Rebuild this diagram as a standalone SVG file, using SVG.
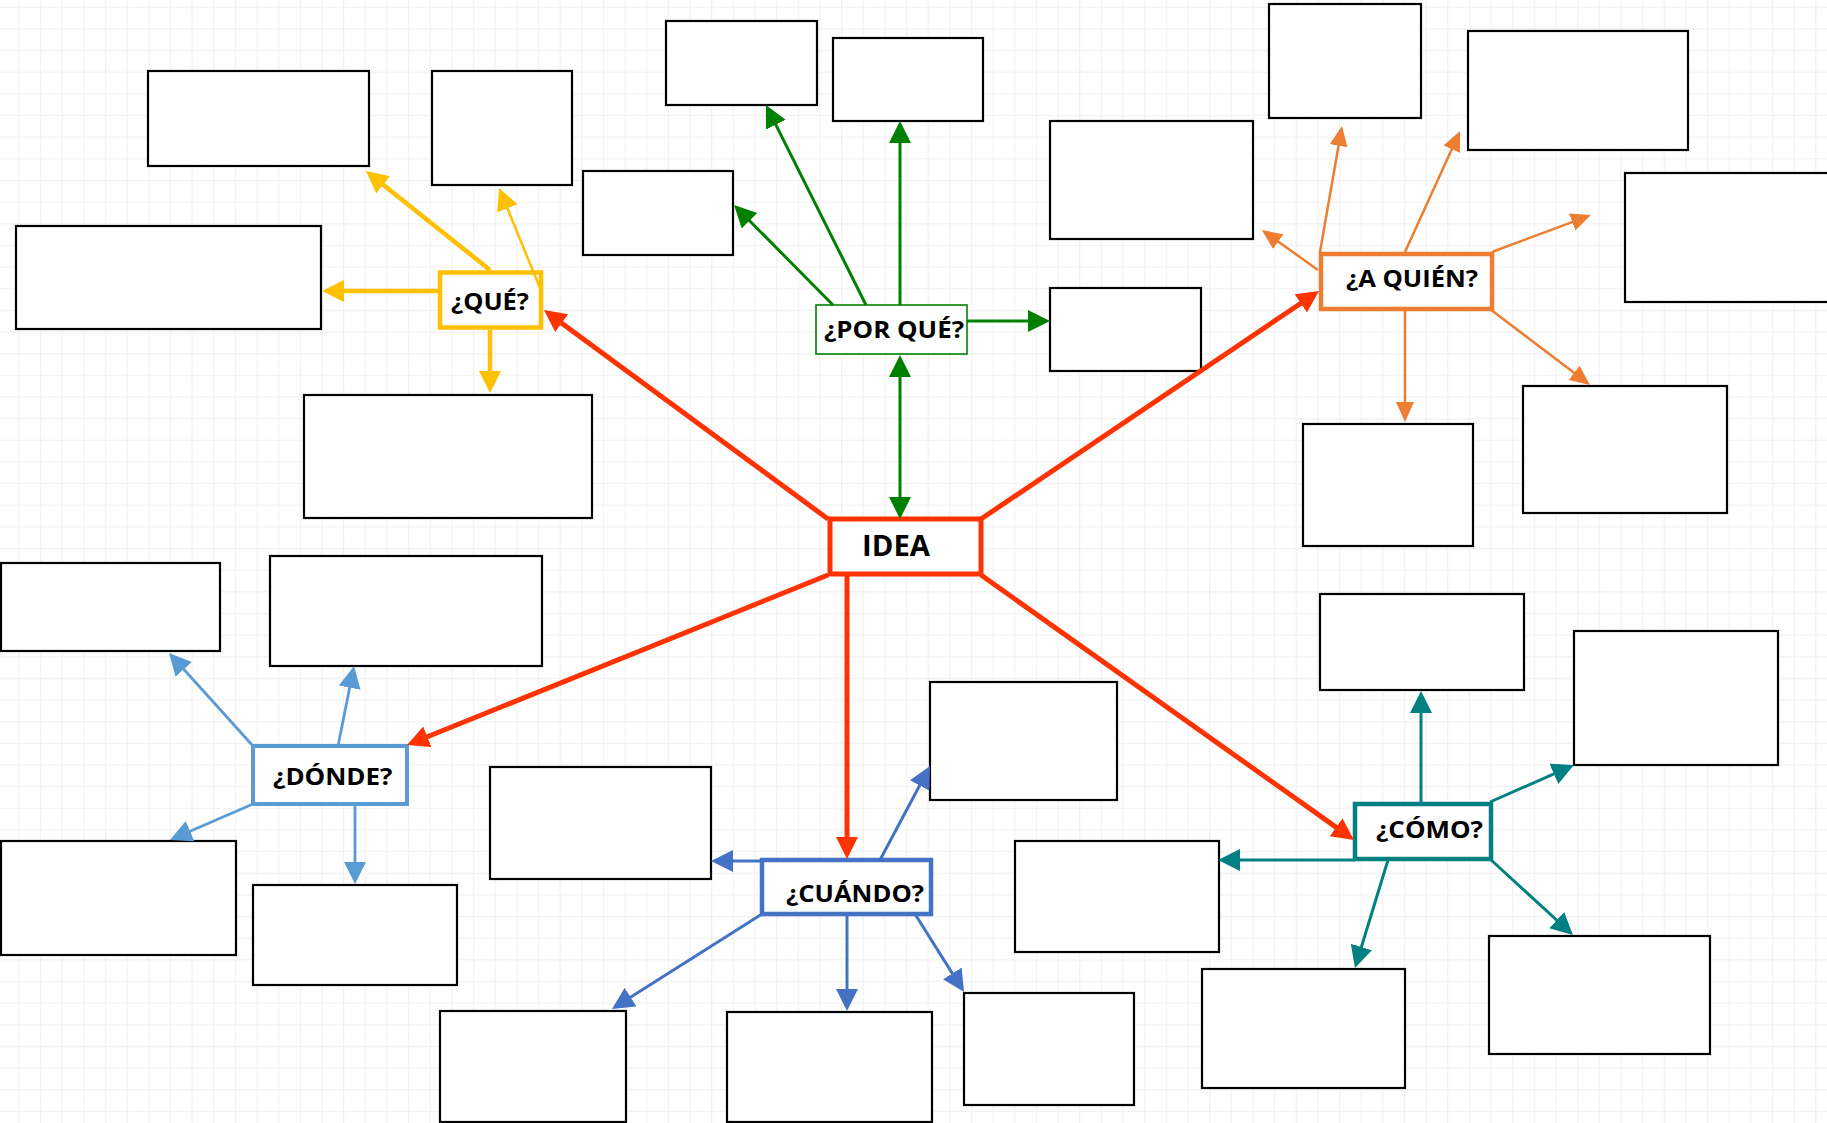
<svg xmlns="http://www.w3.org/2000/svg" width="1827" height="1123" viewBox="0 0 1827 1123">
<style>
.box{fill:#fff;stroke:#000;stroke-width:2.2}
.node{fill:#fff}
.lbl{font-family:"Open Sans","Liberation Sans",sans-serif;font-weight:700;font-size:23.5px;fill:#000}
.big{font-size:29px}
.c{fill:none;stroke-linecap:butt}
.red{stroke:#FF3300;stroke-width:5;marker-end:url(#mRed)}
.yel{stroke:#FFC000;stroke-width:4.5;marker-end:url(#mYel)}
.yelt{stroke:#FFC000;stroke-width:2.5;marker-end:url(#mYel)}
.grn{stroke:#008000;stroke-width:3;marker-end:url(#mGrn)}
.org{stroke:#ED7D31;stroke-width:2.5;marker-end:url(#mOrg)}
.lbl2{stroke:#5B9BD5;stroke-width:2.8;marker-end:url(#mLb)}
.blu{stroke:#4472C4;stroke-width:3;marker-end:url(#mBlu)}
.tea{stroke:#008080;stroke-width:3;marker-end:url(#mTea)}
</style>
<defs>
<pattern id="grid" patternUnits="userSpaceOnUse" x="18.3" y="6.7" width="21.65" height="21.65">
<path d="M0,0 V21.65 M0,0 H21.65" stroke="#f1f1f1" stroke-width="2.4" fill="none"/>
</pattern>
<marker id="mRed" markerUnits="userSpaceOnUse" markerWidth="24" markerHeight="24" refX="2" refY="11" orient="auto"><path d="M0,0 L22,11 L0,22 z" fill="#FF3300"/></marker>
<marker id="mYel" markerUnits="userSpaceOnUse" markerWidth="24" markerHeight="24" refX="2" refY="11" orient="auto"><path d="M0,0 L22,11 L0,22 z" fill="#FFC000"/></marker>
<marker id="mGrn" markerUnits="userSpaceOnUse" markerWidth="24" markerHeight="24" refX="2" refY="11" orient="auto-start-reverse"><path d="M0,0 L22,11 L0,22 z" fill="#008000"/></marker>
<marker id="mOrg" markerUnits="userSpaceOnUse" markerWidth="22" markerHeight="22" refX="2" refY="9" orient="auto"><path d="M0,0 L20,9 L0,18 z" fill="#ED7D31"/></marker>
<marker id="mLb" markerUnits="userSpaceOnUse" markerWidth="24" markerHeight="24" refX="2" refY="11" orient="auto"><path d="M0,0 L22,11 L0,22 z" fill="#5B9BD5"/></marker>
<marker id="mBlu" markerUnits="userSpaceOnUse" markerWidth="24" markerHeight="24" refX="2" refY="11" orient="auto"><path d="M0,0 L22,11 L0,22 z" fill="#4472C4"/></marker>
<marker id="mTea" markerUnits="userSpaceOnUse" markerWidth="24" markerHeight="24" refX="2" refY="11" orient="auto"><path d="M0,0 L22,11 L0,22 z" fill="#008080"/></marker>
</defs>
<rect width="1827" height="1123" fill="#fff"/>
<rect width="1827" height="1123" fill="url(#grid)"/>

<g id="leaf-boxes">
<rect id="boxA" class="box" x="148" y="71" width="221" height="95"/>
<rect id="boxB" class="box" x="432" y="71" width="140" height="114"/>
<rect id="boxC" class="box" x="16" y="226" width="305" height="103"/>
<rect id="boxD" class="box" x="304" y="395" width="288" height="123"/>
<rect id="boxE" class="box" x="666" y="21" width="151" height="84"/>
<rect id="boxF" class="box" x="833" y="38" width="150" height="83"/>
<rect id="boxG" class="box" x="583" y="171" width="150" height="84"/>
<rect id="boxH" class="box" x="1050" y="121" width="203" height="118"/>
<rect id="boxI" class="box" x="1050" y="288" width="151" height="83"/>
<rect id="boxT" class="box" x="1269" y="4" width="152" height="114"/>
<rect id="boxU" class="box" x="1468" y="31" width="220" height="119"/>
<rect id="boxV" class="box" x="1625" y="173" width="210" height="129"/>
<rect id="boxW" class="box" x="1303" y="424" width="170" height="122"/>
<rect id="boxX" class="box" x="1523" y="386" width="204" height="127"/>
<rect id="boxY" class="box" x="1" y="563" width="219" height="88"/>
<rect id="boxZ" class="box" x="270" y="556" width="272" height="110"/>
<rect id="boxAA" class="box" x="1" y="841" width="235" height="114"/>
<rect id="boxAB" class="box" x="253" y="885" width="204" height="100"/>
<rect id="boxJ" class="box" x="490" y="767" width="221" height="112"/>
<rect id="boxK" class="box" x="930" y="682" width="187" height="118"/>
<rect id="boxL" class="box" x="727" y="1012" width="205" height="110"/>
<rect id="boxM" class="box" x="440" y="1011" width="186" height="111"/>
<rect id="boxN" class="box" x="964" y="993" width="170" height="112"/>
<rect id="boxO" class="box" x="1015" y="841" width="204" height="111"/>
<rect id="boxP" class="box" x="1320" y="594" width="204" height="96"/>
<rect id="boxQ" class="box" x="1574" y="631" width="204" height="134"/>
<rect id="boxR" class="box" x="1202" y="969" width="203" height="119"/>
<rect id="boxS" class="box" x="1489" y="936" width="221" height="118"/>
</g>

<g id="idea">
<rect class="node" x="830" y="519" width="151" height="55" stroke="#FF3300" stroke-width="5"/>
<text class="lbl big" x="862" y="556" textLength="68" lengthAdjust="spacingAndGlyphs">IDEA</text>
</g>
<g id="que">
<rect class="node" x="440" y="272.5" width="101" height="55" stroke="#FFC000" stroke-width="4.5"/>
<text class="lbl" x="451" y="310" textLength="78" lengthAdjust="spacingAndGlyphs">¿QUÉ?</text>
</g>
<g id="porque">
<rect class="node" x="816" y="305" width="151" height="49" stroke="#008000" stroke-width="1.6"/>
<text class="lbl" x="824" y="338" textLength="140" lengthAdjust="spacingAndGlyphs">¿POR QUÉ?</text>
</g>
<g id="aquien">
<rect class="node" x="1321" y="254" width="171" height="55" stroke="#ED7D31" stroke-width="4.5"/>
<text class="lbl" x="1346" y="287" textLength="132" lengthAdjust="spacingAndGlyphs">¿A QUIÉN?</text>
</g>
<g id="donde">
<rect class="node" x="253" y="746" width="154" height="58" stroke="#5B9BD5" stroke-width="4"/>
<text class="lbl" x="273" y="785" textLength="119.5" lengthAdjust="spacingAndGlyphs">¿DÓNDE?</text>
</g>
<g id="cuando">
<rect class="node" x="762" y="860" width="169" height="54" stroke="#4472C4" stroke-width="4.5"/>
<text class="lbl" x="786" y="902" textLength="138" lengthAdjust="spacingAndGlyphs">¿CUÁNDO?</text>
</g>
<g id="como">
<rect class="node" x="1355" y="804" width="136" height="55" stroke="#008080" stroke-width="4.5"/>
<text class="lbl" x="1376" y="838" textLength="107" lengthAdjust="spacingAndGlyphs">¿CÓMO?</text>
</g>

<g id="connectors">
<line class="c red" x1="828" y1="519" x2="560.1" y2="321.9"/>
<line class="c red" x1="981" y1="519" x2="1302.4" y2="302.2"/>
<line class="c red" x1="828" y1="575" x2="425.5" y2="737.5"/>
<line class="c red" x1="847" y1="575" x2="847" y2="839"/>
<line class="c red" x1="981" y1="575" x2="1337.7" y2="828.4"/>

<line class="c grn" x1="833" y1="305" x2="748.1" y2="219.2"/>
<line class="c grn" x1="866" y1="305" x2="774.9" y2="122.9"/>
<line class="c grn" x1="900" y1="305" x2="900" y2="141"/>
<line class="c grn" x1="967" y1="321" x2="1030" y2="321"/>
<line class="c grn" x1="900" y1="375" x2="900" y2="499" marker-start="url(#mGrn)"/>

<line class="c yel" x1="438" y1="291" x2="342" y2="291"/>
<line class="c yel" x1="490" y1="270" x2="381.6" y2="183.5"/>
<line class="c yelt" x1="540" y1="288" x2="506.6" y2="206.5"/>
<line class="c yel" x1="490" y1="330" x2="490" y2="373"/>

<line class="c org" x1="1318" y1="270" x2="1276.6" y2="240.5"/>
<line class="c org" x1="1320" y1="252" x2="1338.9" y2="143.7"/>
<line class="c org" x1="1405" y1="252" x2="1452.6" y2="147.4"/>
<line class="c org" x1="1492" y1="252" x2="1574.1" y2="221.3"/>
<line class="c org" x1="1405" y1="309" x2="1405" y2="404"/>
<line class="c org" x1="1490" y1="309" x2="1575.7" y2="374.1"/>

<line class="c lbl2" x1="253" y1="746" x2="182.4" y2="667.8"/>
<line class="c lbl2" x1="338" y1="746" x2="350.1" y2="685.6"/>
<line class="c lbl2" x1="253" y1="804" x2="188.3" y2="832"/>
<line class="c lbl2" x1="355" y1="804" x2="355" y2="864"/>

<line class="c blu" x1="762" y1="861" x2="731" y2="861"/>
<line class="c blu" x1="880" y1="860" x2="920.6" y2="783.7"/>
<line class="c blu" x1="847" y1="914" x2="847" y2="991"/>
<line class="c blu" x1="762" y1="914" x2="628.9" y2="998.2"/>
<line class="c blu" x1="915" y1="914" x2="953.4" y2="975.1"/>

<line class="c tea" x1="1421" y1="804" x2="1421" y2="711"/>
<line class="c tea" x1="1490" y1="802" x2="1555.7" y2="773.1"/>
<line class="c tea" x1="1355" y1="860" x2="1238" y2="860"/>
<line class="c tea" x1="1388" y1="860" x2="1360.8" y2="948.9"/>
<line class="c tea" x1="1490" y1="859" x2="1558.2" y2="921.5"/>
</g>
</svg>
